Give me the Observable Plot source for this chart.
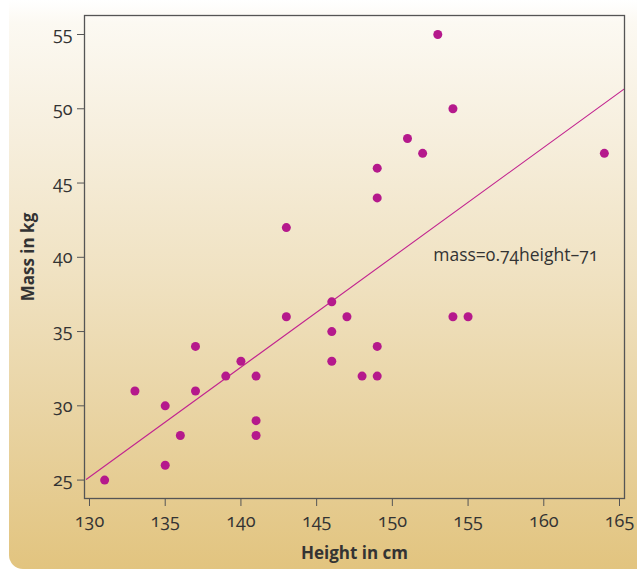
<!DOCTYPE html>
<html>
<head>
<meta charset="utf-8">
<script src="https://cdn.jsdelivr.net/npm/d3@7"></script>
<script src="https://cdn.jsdelivr.net/npm/@observablehq/plot@0.6"></script>
<style>
  html, body { margin: 0; padding: 0; background: #fff; }
  #wrap { position: relative; width: 637px; height: 569px; overflow: hidden; }
  #bg { position: absolute; left: 9px; top: 0; right: 0; bottom: 0;
        border-bottom-left-radius: 14px;
        background: linear-gradient(to bottom, #ffffff 0%, #fcf9f2 4%, #f6eedc 25%, #f0e2c2 48%, #e9d4a4 72%, #e2c47f 100%); }
  #chart { position: absolute; left: 0; top: 0; }
  svg { font-family: "Open Sans", sans-serif; }
  svg text { font-variant-numeric: oldstyle-nums !important; font-variant: oldstyle-nums !important; }
</style>
</head>
<body>
<div id="wrap"><div id="bg"></div><div id="chart"></div></div>
<script>
const heights = [131, 133, 135, 135, 136, 137, 137, 139, 140, 141, 141, 141, 143, 143, 146, 146, 146, 147, 148, 149, 149, 149, 149, 151, 152, 153, 154, 154, 155, 164];
const masses  = [25, 31, 30, 26, 28, 34, 31, 32, 33, 32, 29, 28, 42, 36, 37, 35, 33, 36, 32, 46, 44, 34, 32, 48, 47, 55, 50, 36, 36, 47];
const xTicks = [130, 135, 140, 145, 150, 155, 160, 165];
const yTicks = [25, 30, 35, 40, 45, 50, 55];
const fitSlope = 0.74;
const fitIntercept = -71;
const fitRange = [129.8, 166];
const equationLabel = "mass=0.74height\u201371";
const equationPos = {h: 152.7, m: 40.1};
const xLabel = "Height in cm";
const yLabel = "Mass in kg";

const points = heights.map((h, i) => ({h, m: masses[i]}));
const fit = fitRange.map(h => ({h, m: fitSlope * h + fitIntercept}));

const chart = Plot.plot({
  width: 637,
  height: 569,
  marginLeft: 84,
  marginRight: 13,
  marginTop: 15,
  marginBottom: 71,
  style: {background: "none", color: "#333", fontSize: "18px", fontFamily: "'Open Sans', sans-serif"},
  x: {domain: [129.67, 165.33]},
  y: {domain: [23.76, 56.28]},
  marks: [
    Plot.line(fit, {x: "h", y: "m", stroke: "#c2248f", strokeWidth: 1.1, clip: true}),
    Plot.frame({stroke: "#555", strokeWidth: 1.3}),
    Plot.axisX({ticks: xTicks, tickSize: 8, tickPadding: 8, label: null, stroke: "#555", fill: "#333", fontSize: 18, fontVariant: "oldstyle-nums"}),
    Plot.axisY({ticks: yTicks, tickSize: 7, tickPadding: 5, label: null, stroke: "#555", fill: "#333", fontSize: 18, fontVariant: "oldstyle-nums"}),
    Plot.dot(points, {x: "h", y: "m", r: 4.5, fill: "#b5198c", stroke: "none"}),
    Plot.text([equationLabel], {x: () => equationPos.h, y: () => equationPos.m, text: d => d, textAnchor: "start", fontSize: 17.5, fill: "#333", fontVariant: "oldstyle-nums"}),
    Plot.text([xLabel], {frameAnchor: "bottom", dy: 55, lineAnchor: "middle", text: d => d, fontWeight: "bold", fontSize: 17, fill: "#333"}),
    Plot.text([yLabel], {frameAnchor: "left", dx: -56, rotate: -90, textAnchor: "middle", text: d => d, fontWeight: "bold", fontSize: 17, fill: "#333"})
  ]
});
document.getElementById("chart").appendChild(chart);
</script>
</body>
</html>
